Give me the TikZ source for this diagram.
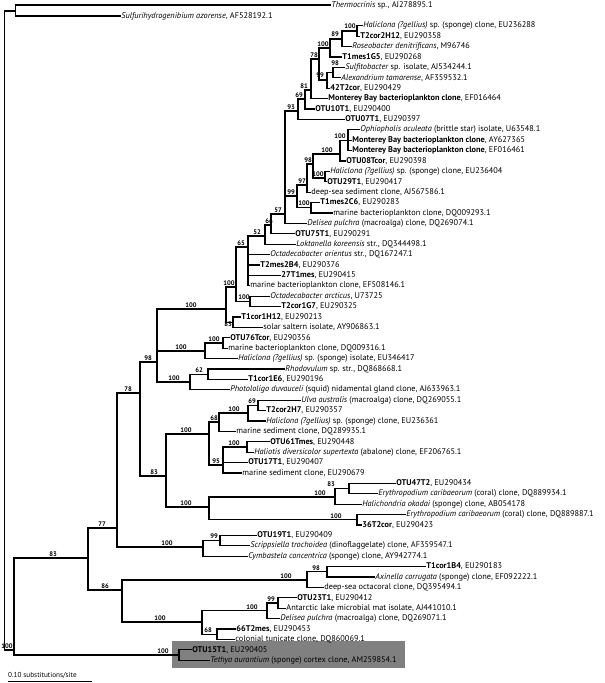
\documentclass[tikz,border=0pt]{standalone}
\usepackage{fontspec}
\setmainfont{PT Sans}
\newcommand\lfont{\fontsize{8.3}{9}\selectfont}
\newcommand\bsfont{\fontsize{6.6}{7}\selectfont\bfseries}
\newcommand{\kids}[4]{\draw[tree] (#1 |- #2) -- (#1 |- #3);\foreach \c in {#4}{\draw[tree] (#1 |- \c) -- (\c);}}
\definecolor{boxgray}{RGB}{128,128,128}
\begin{document}
\begin{tikzpicture}[x=1pt,y=-1pt,
  tree/.style={line width=1.05pt,line cap=rect},
  lf/.style={anchor=west,inner sep=1.2pt,font=\lfont},
  bs/.style={inner sep=0pt,font=\bsfont}]
\useasboundingbox (0,0) rectangle (605,683);
\node[fill=boxgray,minimum width=233pt,minimum height=27pt,anchor=north west,inner sep=0pt] (hbox) at (172,641) {};
% leaves
\coordinate (l1) at (330,5);
\coordinate (l2) at (120,16);
\coordinate (l3) at (362,25.8);
\coordinate (l4) at (359,36.2);
\coordinate (l5) at (351,46.6);
\coordinate (l6) at (341,57);
\coordinate (l7) at (344,67.4);
\coordinate (l8) at (340,77.8);
\coordinate (l9) at (329,88.2);
\coordinate (l10) at (327,98.6);
\coordinate (l11) at (314,109);
\coordinate (l12) at (344,119.4);
\coordinate (l13) at (359,129.8);
\coordinate (l14) at (351,140.2);
\coordinate (l15) at (351,150.6);
\coordinate (l16) at (345,161);
\coordinate (l17) at (329,171.4);
\coordinate (l18) at (326,181.8);
\coordinate (l19) at (310,192.2);
\coordinate (l20) at (319,202.6);
\coordinate (l21) at (332,213);
\coordinate (l22) at (306,223.4);
\coordinate (l23) at (294,233.8);
\coordinate (l24) at (295,244.2);
\coordinate (l25) at (269,254.6);
\coordinate (l26) at (259,265);
\coordinate (l27) at (280,275.4);
\coordinate (l28) at (249,285.8);
\coordinate (l29) at (269,296.2);
\coordinate (l30) at (280,306.6);
\coordinate (l31) at (240,317);
\coordinate (l32) at (262,327.4);
\coordinate (l33) at (229,337.8);
\coordinate (l34) at (227,348.2);
\coordinate (l35) at (237,358.6);
\coordinate (l36) at (284,369);
\coordinate (l37) at (247,379.4);
\coordinate (l38) at (229,389.8);
\coordinate (l39) at (300,400.2);
\coordinate (l40) at (265,410.6);
\coordinate (l41) at (265,421);
\coordinate (l42) at (235,431.4);
\coordinate (l43) at (269,441.8);
\coordinate (l44) at (253,452.2);
\coordinate (l45) at (247,462.6);
\coordinate (l46) at (241,473);
\coordinate (l47) at (395,483.4);
\coordinate (l48) at (377,493.8);
\coordinate (l49) at (361,504.2);
\coordinate (l50) at (405,514.6);
\coordinate (l51) at (361,525);
\coordinate (l52) at (256,535.4);
\coordinate (l53) at (249,545.8);
\coordinate (l54) at (247,556.2);
\coordinate (l55) at (425,566.6);
\coordinate (l56) at (374,577);
\coordinate (l57) at (323,587.4);
\coordinate (l58) at (296,597.8);
\coordinate (l59) at (285,608.2);
\coordinate (l60) at (279,618.6);
\coordinate (l61) at (235,629);
\coordinate (l62) at (234,639.4);
\coordinate (l63) at (191,649.8);
\coordinate (l64) at (209,660.2);
% internal nodes
\coordinate (nA) at (357,31);
\coordinate (nB) at (342,39);
\coordinate (nC) at (330,48);
\coordinate (nF) at (333,72.6);
\coordinate (nE) at (327,80);
\coordinate (nD) at (319,59);
\coordinate (nG) at (311,90);
\coordinate (nH69) at (305,99);
\coordinate (nI93) at (298,111);
\coordinate (nH) at (348,140.2);
\coordinate (nI) at (340,154);
\coordinate (nK) at (325,178);
\coordinate (nJ) at (313,164);
\coordinate (nL) at (307,185);
\coordinate (nN) at (311,207.8);
\coordinate (nM) at (297,196);
\coordinate (nO) at (285,214);
\coordinate (nP66) at (271,225);
\coordinate (nP52) at (265,236);
\coordinate (n65) at (248,247);
\coordinate (nQ) at (250,301.4);
\coordinate (nT) at (236,287);
\coordinate (nR) at (233,322.2);
\coordinate (nS) at (226,309);
\coordinate (nU) at (223,343);
\coordinate (nV) at (205,351);
\coordinate (n62) at (208,374.2);
\coordinate (nW) at (190,382);
\coordinate (nX) at (157,362);
\coordinate (n69b) at (258,405.4);
\coordinate (nBB) at (248,413);
\coordinate (n68) at (219,422);
\coordinate (nCC) at (247,447);
\coordinate (n95) at (223,465);
\coordinate (nZh) at (209,434);
\coordinate (nAIe) at (349,488.6);
\coordinate (nAI) at (335,497);
\coordinate (nAJ) at (357,519.8);
\coordinate (nAA) at (209,507);
\coordinate (nZ) at (166,476);
\coordinate (nY) at (140,393);
\coordinate (n99) at (220,540.6);
\coordinate (nAB) at (203,547);
\coordinate (nSS) at (117,528);
\coordinate (nAD) at (327,571.8);
\coordinate (nAC) at (307,580);
\coordinate (nAG) at (278,603);
\coordinate (nAF) at (267,610.8);
\coordinate (nAH) at (217,634.2);
\coordinate (nAE) at (202,622);
\coordinate (nEi) at (122,590);
\coordinate (nEt) at (88,558);
\coordinate (nOT) at (179,655);
\coordinate (nNB) at (14,650);
\coordinate (nO1) at (15.5,11);
\coordinate (root) at (4.6,30);
% branches
\kids{nA}{l3}{l4}{l3,l4}
\kids{nB}{nA}{l5}{nA,l5}
\kids{nC}{nB}{l6}{nB,l6}
\kids{nF}{l7}{l8}{l7,l8}
\kids{nE}{nF}{l9}{nF,l9}
\kids{nD}{nC}{nE}{nC,nE}
\kids{nG}{nD}{l10}{nD,l10}
\kids{nH69}{nG}{l11}{nG,l11}
\kids{nI93}{nH69}{l12}{nH69,l12}
\kids{nH}{l13}{l15}{l13,l14,l15}
\kids{nI}{nH}{l16}{nH,l16}
\kids{nK}{l17}{l18}{l17,l18}
\kids{nJ}{nI}{nK}{nI,nK}
\kids{nL}{nJ}{l19}{nJ,l19}
\kids{nN}{l20}{l21}{l20,l21}
\kids{nM}{nL}{nN}{nL,nN}
\kids{nO}{nI93}{l22}{nI93,nM,l22}
\kids{nP66}{nO}{l23}{nO,l23}
\kids{nP52}{nP66}{l24}{nP66,l24}
\kids{n65}{nP52}{l28}{nP52,l25,l26,l27,l28}
\kids{nQ}{l29}{l30}{l29,l30}
\kids{nT}{n65}{nQ}{n65,nQ}
\kids{nR}{l31}{l32}{l31,l32}
\kids{nS}{nT}{nR}{nT,nR}
\kids{nU}{l33}{l34}{l33,l34}
\kids{nV}{nU}{l35}{nU,l35}
\kids{n62}{l36}{l37}{l36,l37}
\kids{nW}{n62}{l38}{n62,l38}
\kids{nX}{nS}{nW}{nS,nV,nW}
\kids{n69b}{l39}{l40}{l39,l40}
\kids{nBB}{n69b}{l41}{n69b,l41}
\kids{n68}{nBB}{l42}{nBB,l42}
\kids{nCC}{l43}{l44}{l43,l44}
\kids{n95}{nCC}{l46}{nCC,l45,l46}
\kids{nZh}{n68}{n95}{n68,n95}
\kids{nAIe}{l47}{l48}{l47,l48}
\kids{nAI}{nAIe}{l49}{nAIe,l49}
\kids{nAJ}{l50}{l51}{l50,l51}
\kids{nAA}{nAI}{nAJ}{nAI,nAJ}
\kids{nZ}{nZh}{nAA}{nZh,nAA}
\kids{nY}{nX}{nZ}{nX,nZ}
\kids{n99}{l52}{l53}{l52,l53}
\kids{nAB}{n99}{l54}{n99,l54}
\kids{nSS}{nY}{nAB}{nY,nAB}
\kids{nAD}{l55}{l56}{l55,l56}
\kids{nAC}{nAD}{l57}{nAD,l57}
\kids{nAG}{l58}{l59}{l58,l59}
\kids{nAF}{nAG}{l60}{nAG,l60}
\kids{nAH}{l61}{l62}{l61,l62}
\kids{nAE}{nAF}{nAH}{nAF,nAH}
\kids{nEi}{nAC}{nAE}{nAC,nAE}
\kids{nEt}{nSS}{nEi}{nSS,nEi}
\kids{nOT}{l63}{l64}{l63,l64}
\kids{nNB}{nEt}{nOT}{nEt,nOT}
\kids{nO1}{l1}{l2}{l1,l2}
\kids{root}{nO1}{nNB}{nO1,nNB}
% bootstrap values
\node[bs] (bA) at (350,26) {100};
\node[bs] (bB) at (335,34.5) {89};
\node[bs] (bC) at (323,44) {100};
\node[bs] (bD) at (314,55) {78};
\node[bs] (bF) at (335,63.5) {98};
\node[bs] (bE) at (320,75.5) {99};
\node[bs] (bG) at (304,86) {81};
\node[bs] (bH69) at (299,95) {69};
\node[bs] (bI93) at (291,107) {93};
\node[bs] (bH) at (340,136.5) {100};
\node[bs] (bI) at (327,150) {100};
\node[bs] (bJ) at (308,160) {98};
\node[bs] (bK) at (318,174) {100};
\node[bs] (bL) at (302,181) {97};
\node[bs] (bM) at (291,192) {99};
\node[bs] (bN) at (304,203.5) {100};
\node[bs] (bO) at (278,210) {57};
\node[bs] (bP66) at (269,221) {66};
\node[bs] (bP52) at (257,232) {52};
\node[bs] (b65) at (241,243) {65};
\node[bs] (bT) at (229,283) {100};
\node[bs] (bQ) at (244,297) {100};
\node[bs] (bS) at (191,305) {100};
\node[bs] (bR) at (228,324) {83};
\node[bs] (bU) at (214,339) {100};
\node[bs] (bV) at (181,347) {100};
\node[bs] (bX) at (148,358) {98};
\node[bs] (b62) at (199,370) {62};
\node[bs] (bW) at (174,378) {100};
\node[bs] (bY) at (128,389) {78};
\node[bs] (b69b) at (252,401) {69};
\node[bs] (bBB) at (234,409) {100};
\node[bs] (b68) at (214,418) {68};
\node[bs] (bZh) at (186,430) {100};
\node[bs] (bCC) at (234,443) {100};
\node[bs] (b95) at (216,461) {95};
\node[bs] (bZ) at (154,472) {83};
\node[bs] (bAIe) at (331,484.5) {83};
\node[bs] (bAI) at (320,493) {100};
\node[bs] (bAJ) at (336,516) {100};
\node[bs] (bAA) at (186,503) {100};
\node[bs] (b99) at (214,536.5) {99};
\node[bs] (bAB) at (167,543) {100};
\node[bs] (bSS) at (102,524) {77};
\node[bs] (bAD) at (316,568) {98};
\node[bs] (bAC) at (286,576) {100};
\node[bs] (bAG) at (271,599) {99};
\node[bs] (bAF) at (252,607) {100};
\node[bs] (bAH) at (208,630) {68};
\node[bs] (bAE) at (160,618) {100};
\node[bs] (bEi) at (105,586) {86};
\node[bs] (bEt) at (53,554) {83};
\node[bs] (bOT) at (163,651) {100};
\node[bs] (bNB) at (7,646.5) {100};
% leaf labels
\node[lf] (t1) at (l1) {\textit{Thermocrinis} sp., AJ278895.1};
\node[lf] (t2) at (l2) {\textit{Sulfurihydrogenibium azorense}, AF528192.1};
\node[lf] (t3) at (l3) {\textit{Haliclona (?gellius)} sp. (sponge) clone, EU236288};
\node[lf] (t4) at (l4) {\textbf{T2cor2H12}, EU290358};
\node[lf] (t5) at (l5) {\textit{Roseobacter denitrificans}, M96746};
\node[lf] (t6) at (l6) {\textbf{T1mes1G5}, EU290268};
\node[lf] (t7) at (l7) {\textit{Sulfitobacter} sp. isolate, AJ534244.1};
\node[lf] (t8) at (l8) {\textit{Alexandrium tamarense}, AF359532.1};
\node[lf] (t9) at (l9) {\textbf{42T2cor}, EU290429};
\node[lf] (t10) at (l10) {\textbf{Monterey Bay bacterioplankton clone}, EF016464};
\node[lf] (t11) at (l11) {\textbf{OTU10T1}, EU290400};
\node[lf] (t12) at (l12) {\textbf{OTU07T1}, EU290397};
\node[lf] (t13) at (l13) {\textit{Ophiopholis aculeata} (brittle star) isolate, U63548.1};
\node[lf] (t14) at (l14) {\textbf{Monterey Bay bacterioplankton clone}, AY627365};
\node[lf] (t15) at (l15) {\textbf{Monterey Bay bacterioplankton clone}, EF016461};
\node[lf] (t16) at (l16) {\textbf{OTU08Tcor}, EU290398};
\node[lf] (t17) at (l17) {\textit{Haliclona (?gellius)} sp. (sponge) clone, EU236404};
\node[lf] (t18) at (l18) {\textbf{OTU29T1}, EU290417};
\node[lf] (t19) at (l19) {deep-sea sediment clone, AJ567586.1};
\node[lf] (t20) at (l20) {\textbf{T1mes2C6}, EU290283};
\node[lf] (t21) at (l21) {marine bacterioplankton clone, DQ009293.1};
\node[lf] (t22) at (l22) {\textit{Delisea pulchra} (macroalga) clone, DQ269074.1};
\node[lf] (t23) at (l23) {\textbf{OTU75T1}, EU290291};
\node[lf] (t24) at (l24) {\textit{Loktanella koreensis} str., DQ344498.1};
\node[lf] (t25) at (l25) {\textit{Octadecabacter orientus} str., DQ167247.1};
\node[lf] (t26) at (l26) {\textbf{T2mes2B4}, EU290376};
\node[lf] (t27) at (l27) {\textbf{27T1mes}, EU290415};
\node[lf] (t28) at (l28) {marine bacterioplankton clone, EF508146.1};
\node[lf] (t29) at (l29) {\textit{Octadecabacter arcticus}, U73725};
\node[lf] (t30) at (l30) {\textbf{T2cor1G7}, EU290325};
\node[lf] (t31) at (l31) {\textbf{T1cor1H12}, EU290213};
\node[lf] (t32) at (l32) {solar saltern isolate, AY906863.1};
\node[lf] (t33) at (l33) {\textbf{OTU76Tcor}, EU290356};
\node[lf] (t34) at (l34) {marine bacterioplankton clone, DQ009316.1};
\node[lf] (t35) at (l35) {\textit{Haliclona (?gellius)} sp. (sponge) isolate, EU346417};
\node[lf] (t36) at (l36) {\textit{Rhodovulum} sp. str., DQ868668.1};
\node[lf] (t37) at (l37) {\textbf{T1cor1E6}, EU290196};
\node[lf] (t38) at (l38) {\textit{Photololigo duvauceli} (squid) nidamental gland clone, AJ633963.1};
\node[lf] (t39) at (l39) {\textit{Ulva australis} (macroalga) clone, DQ269055.1};
\node[lf] (t40) at (l40) {\textbf{T2cor2H7}, EU290357};
\node[lf] (t41) at (l41) {\textit{Haliclona (?gellius)} sp. (sponge) clone, EU236361};
\node[lf] (t42) at (l42) {marine sediment clone, DQ289935.1};
\node[lf] (t43) at (l43) {\textbf{OTU61Tmes}, EU290448};
\node[lf] (t44) at (l44) {\textit{Haliotis diversicolor supertexta} (abalone) clone, EF206765.1};
\node[lf] (t45) at (l45) {\textbf{OTU17T1}, EU290407};
\node[lf] (t46) at (l46) {marine sediment clone, EU290679};
\node[lf] (t47) at (l47) {\textbf{OTU47T2}, EU290434};
\node[lf] (t48) at (l48) {\textit{Erythropodium caribaeorum} (coral) clone, DQ889934.1};
\node[lf] (t49) at (l49) {\textit{Halichondria okadai} (sponge) clone, AB054178};
\node[lf] (t50) at (l50) {\textit{Erythropodium caribaeorum} (coral) clone, DQ889887.1};
\node[lf] (t51) at (l51) {\textbf{36T2cor}, EU290423};
\node[lf] (t52) at (l52) {\textbf{OTU19T1}, EU290409};
\node[lf] (t53) at (l53) {\textit{Scrippsiella trochoidea} (dinoflaggelate) clone, AF359547.1};
\node[lf] (t54) at (l54) {\textit{Cymbastela concentrica} (sponge) clone, AY942774.1};
\node[lf] (t55) at (l55) {\textbf{T1cor1B4}, EU290183};
\node[lf] (t56) at (l56) {\textit{Axinella corrugata} (sponge) clone, EF092222.1};
\node[lf] (t57) at (l57) {deep-sea octacoral clone, DQ395494.1};
\node[lf] (t58) at (l58) {\textbf{OTU23T1}, EU290412};
\node[lf] (t59) at (l59) {Antarctic lake microbial mat isolate, AJ441010.1};
\node[lf] (t60) at (l60) {\textit{Delisea pulchra} (macroalga) clone, DQ269071.1};
\node[lf] (t61) at (l61) {\textbf{66T2mes}, EU290453};
\node[lf] (t62) at (l62) {colonial tunicate clone, DQ860069.1};
\node[lf] (t63) at (l63) {\textbf{OTU15T1}, EU290405};
\node[lf] (t64) at (l64) {\textit{Tethya aurantium} (sponge) cortex clone, AM259854.1};
% scale bar
\coordinate (s1) at (8,681);
\coordinate (s2) at (92,681);
\draw[line width=0.8pt] (s1) -- (s2);
\node[anchor=south west,inner sep=0pt,font=\fontsize{7.2}{8}\selectfont] (sc) at (8,678.5) {0.10 substitutions/site};
\end{tikzpicture}
\end{document}
